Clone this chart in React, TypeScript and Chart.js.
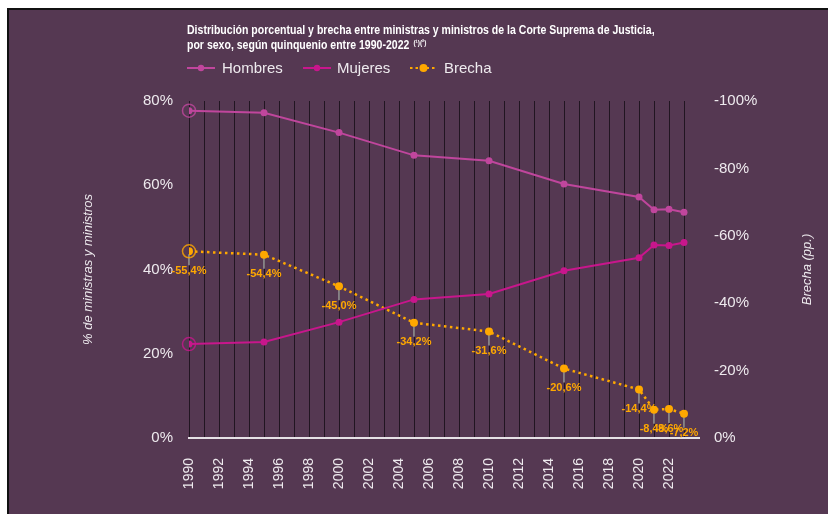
import { useEffect, useRef } from 'react';
import { Chart, registerables } from 'chart.js';

Chart.register(...registerables);

const years = [1990, 1995, 2000, 2005, 2010, 2015, 2020, 2021, 2022, 2023];
const hombres = [77.7, 77.2, 72.5, 67.1, 65.8, 60.3, 57.2, 54.2, 54.3, 53.6];
const mujeres = [22.3, 22.8, 27.5, 32.9, 34.2, 39.7, 42.8, 45.8, 45.7, 46.4];
const brecha = [-55.4, -54.4, -45.0, -34.2, -31.6, -20.6, -14.4, -8.4, -8.6, -7.2];
const seriesNames = ['Hombres', 'Mujeres', 'Brecha'];
const titleLine1 = 'Distribución porcentual y brecha entre ministras y ministros de la Corte Suprema de Justicia,';
const titleLine2 = 'por sexo, según quinquenio entre 1990-2022';
const titleNote = '(¹)(²)';
const leftAxisTitle = '% de ministras y ministros';
const rightAxisTitle = 'Brecha (pp.)';

const BG = '#553852';
const C_H = '#c0469d';
const C_M = '#c8168c';
const C_B = '#ffa800';
const TXT = '#eeeaee';
const SANS = '"Liberation Sans", Arial, sans-serif';

const fmt = (v: number) => v.toFixed(1).replace('.', ',') + '%';

const decor = {
  id: 'decor',
  beforeDraw(chart: any) {
    const ctx = chart.ctx;
    const area = chart.chartArea;
    ctx.save();
    // title (condensed)
    ctx.save();
    ctx.translate(178, 0);
    ctx.scale(0.81, 1);
    ctx.fillStyle = '#ffffff';
    ctx.textBaseline = 'middle';
    ctx.textAlign = 'left';
    ctx.font = 'bold 13px ' + SANS;
    ctx.fillText(titleLine1, 0, 20);
    ctx.fillText(titleLine2, 0, 35);
    const w2 = ctx.measureText(titleLine2).width;
    ctx.font = 'bold 8px ' + SANS;
    ctx.fillText(titleNote, w2 + 5, 33);
    ctx.restore();

    // legend
    const ly = 58;
    const items = [
      { x0: 178, x1: 206, tx: 213, color: C_H, dash: [] as number[] },
      { x0: 294, x1: 322, tx: 328, color: C_M, dash: [] as number[] },
      { x0: 401, x1: 428, tx: 435, color: C_B, dash: [2.5, 3] },
    ];
    items.forEach((it, i) => {
      ctx.strokeStyle = it.color;
      ctx.lineWidth = 2;
      ctx.setLineDash(it.dash);
      ctx.beginPath();
      ctx.moveTo(it.x0, ly);
      ctx.lineTo(it.x1, ly);
      ctx.stroke();
      ctx.setLineDash([]);
      ctx.fillStyle = it.color;
      ctx.beginPath();
      ctx.arc((it.x0 + it.x1) / 2, ly, i === 2 ? 4 : 3.2, 0, Math.PI * 2);
      ctx.fill();
      ctx.fillStyle = TXT;
      ctx.font = '15px ' + SANS;
      ctx.textAlign = 'left';
      ctx.textBaseline = 'middle';
      ctx.fillText(seriesNames[i], it.tx, ly + 1);
    });

    // axis titles
    const cy = (area.top + area.bottom) / 2;
    ctx.font = 'italic 13px ' + SANS;
    ctx.fillStyle = TXT;
    ctx.textAlign = 'center';
    ctx.textBaseline = 'middle';
    ctx.save();
    ctx.translate(79, cy);
    ctx.rotate(-Math.PI / 2);
    ctx.fillText(leftAxisTitle, 0, 0);
    ctx.restore();
    ctx.save();
    ctx.translate(798, cy);
    ctx.rotate(-Math.PI / 2);
    ctx.fillText(rightAxisTitle, 0, 0);
    ctx.restore();
    ctx.restore();
  },
  beforeDatasetsDraw(chart: any) {
    const ctx = chart.ctx;
    const meta = chart.getDatasetMeta(2);
    ctx.save();
    meta.data.forEach((pt: any, i: number) => {
      const x = pt.x;
      const y = pt.y;
      ctx.strokeStyle = '#9a9a9a';
      ctx.lineWidth = 1.5;
      ctx.beginPath();
      ctx.moveTo(x, y + 3);
      ctx.lineTo(x, y + 14);
      ctx.stroke();
      ctx.fillStyle = C_B;
      ctx.font = 'bold 11px ' + SANS;
      ctx.textAlign = 'center';
      ctx.textBaseline = 'middle';
      ctx.fillText(fmt(brecha[i]), x, y + 19.5);
    });
    ctx.restore();
  },
  afterDatasetsDraw(chart: any) {
    const ctx = chart.ctx;
    ctx.save();
    [C_H, C_M, C_B].forEach((c, d) => {
      const pt = chart.getDatasetMeta(d).data[0];
      ctx.strokeStyle = c;
      ctx.globalAlpha = 0.8;
      ctx.lineWidth = 1.5;
      ctx.beginPath();
      ctx.arc(pt.x, pt.y, 6.5, 0, Math.PI * 2);
      ctx.stroke();
    });
    ctx.restore();
  },
};

export default function App() {
  const ref = useRef<HTMLCanvasElement>(null);
  useEffect(() => {
    if (!ref.current) return;
    const chart = new Chart(ref.current, {
      type: 'line',
      data: {
        datasets: [
          {
            label: seriesNames[0],
            data: years.map((x, i) => ({ x, y: hombres[i] })),
            borderColor: C_H,
            backgroundColor: C_H,
            borderWidth: 2,
            pointRadius: 3.5,
            pointBorderWidth: 0,
            yAxisID: 'y',
          },
          {
            label: seriesNames[1],
            data: years.map((x, i) => ({ x, y: mujeres[i] })),
            borderColor: C_M,
            backgroundColor: C_M,
            borderWidth: 2,
            pointRadius: 3.5,
            pointBorderWidth: 0,
            yAxisID: 'y',
          },
          {
            label: seriesNames[2],
            data: years.map((x, i) => ({ x, y: brecha[i] })),
            borderColor: C_B,
            backgroundColor: C_B,
            borderWidth: 2.5,
            borderDash: [2.5, 3.5],
            pointRadius: 4,
            pointBorderWidth: 0,
            yAxisID: 'y1',
          },
        ],
      },
      options: {
        responsive: false,
        animation: false,
        layout: { padding: { top: 91, left: 0, right: 0, bottom: 0 } },
        plugins: { legend: { display: false }, tooltip: { enabled: false }, title: { display: false } },
        scales: {
          x: {
            type: 'linear',
            min: 1990,
            max: 2024,
            afterFit(s: any) { s.height = 76; },
            grid: {
              drawTicks: false,
              color: (c: any) => (c.tick && c.tick.value === 2024 ? 'rgba(0,0,0,0)' : 'rgba(25,15,25,0.85)'),
              lineWidth: 1,
            },
            border: { display: true, color: '#e6e2e6', width: 2 },
            ticks: {
              stepSize: 1,
              autoSkip: false,
              maxRotation: 90,
              minRotation: 90,
              padding: 20,
              color: TXT,
              font: { size: 14, family: SANS },
              callback: (v: any) => (Number(v) % 2 === 0 && Number(v) < 2024 ? String(v) : ''),
            },
          },
          y: {
            position: 'left',
            min: 0,
            max: 80,
            afterFit(s: any) { s.width = 180; },
            grid: { display: false, drawTicks: false },
            border: { display: false },
            ticks: {
              stepSize: 20,
              padding: 16,
              color: TXT,
              font: { size: 15, family: SANS },
              callback: (v: any) => v + '%',
            },
          },
          y1: {
            position: 'right',
            min: -100,
            max: 0,
            reverse: true,
            afterFit(s: any) { s.width = 129; },
            grid: { display: false, drawTicks: false },
            border: { display: false },
            ticks: {
              stepSize: 20,
              padding: 15,
              color: TXT,
              font: { size: 15, family: SANS },
              callback: (v: any) => v + '%',
            },
          },
        },
      },
      plugins: [decor],
    } as any);
    return () => chart.destroy();
  }, []);

  return (
    <div
      style={{
        position: 'fixed',
        left: 7,
        top: 8,
        width: 830,
        height: 520,
        borderTop: '2px solid #111',
        borderLeft: '2px solid #111',
        background: BG,
      }}
    >
      <canvas ref={ref} width={819} height={504} style={{ display: 'block' }} />
    </div>
  );
}
